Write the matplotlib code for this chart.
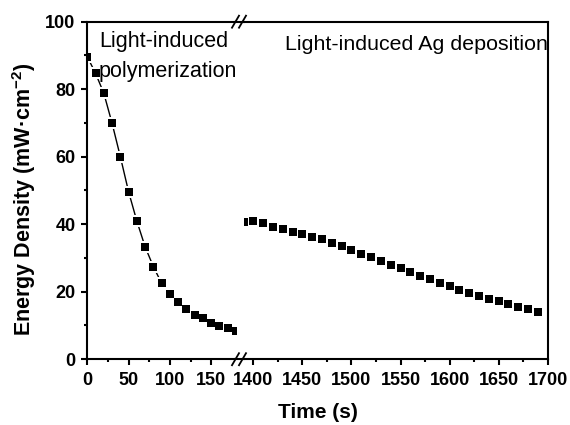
import numpy as np
import matplotlib
matplotlib.use("Agg")
import matplotlib.pyplot as plt
from matplotlib.lines import Line2D
from matplotlib.patches import Polygon

plt.rcParams['font.family'] = ['Liberation Sans', 'DejaVu Sans']
plt.rcParams['mathtext.fontset'] = 'custom'
plt.rcParams['mathtext.rm'] = 'Liberation Sans'
plt.rcParams['mathtext.default'] = 'regular'

# light-induced polymerization
t_poly = [0, 10, 20, 30, 40, 50, 60, 70, 80, 90, 100, 110, 120, 130, 140, 150, 160, 170, 180]
e_poly = [89.6, 84.7, 78.8, 69.9, 60.0, 49.6, 40.9, 33.3, 27.4, 22.5, 19.2, 17.0, 14.9,
          13.1, 12.1, 10.8, 9.9, 9.2, 8.4]

# light-induced Ag deposition
t_ag = [1390, 1400, 1410, 1420, 1430, 1440, 1450, 1460, 1470, 1480, 1490, 1500, 1510,
        1520, 1530, 1540, 1550, 1560, 1570, 1580, 1590, 1600, 1610, 1620, 1630, 1640,
        1650, 1660, 1670, 1680, 1690]
e_ag = [40.7, 40.9, 40.3, 39.1, 38.6, 37.8, 37.0, 36.3, 35.5, 34.3, 33.5, 32.4, 31.2,
        30.2, 29.1, 28.0, 27.0, 25.8, 24.7, 23.7, 22.7, 21.7, 20.5, 19.7, 18.7, 17.9,
        17.2, 16.3, 15.6, 14.9, 14.1]

W, H = 570, 425
fig = plt.figure(figsize=(W / 100, H / 100), dpi=100)

def fx(px):
    return px / W

def fy(py):
    return 1 - py / H

top, bot = 21.7, 359.2
ax1 = fig.add_axes([fx(87.3), fy(bot), fx(236 - 87.3), (bot - top) / H])
ax2 = fig.add_axes([fx(243.5), fy(bot), fx(547.7 - 243.5), (bot - top) / H], sharey=ax1)

for ax, t, e in [(ax1, t_poly, e_poly), (ax2, t_ag, e_ag)]:
    ax.plot(t, e, color='black', lw=1, zorder=2)
    ax.plot(t, e, 's', color='white', ms=8, mew=0, zorder=2.2)
    ax.plot(t, e, 's', color='black', ms=5.2, mew=0, zorder=3)
    for s in ax.spines.values():
        s.set_linewidth(1.5)
    ax.tick_params(which='major', direction='out', length=4.5, width=1.5, pad=4,
                   labelsize=13)
    ax.tick_params(which='minor', direction='out', length=2.5, width=1.5)

ax1.set_xlim(0, 180)
ax1.set_ylim(0, 100)
ax1.set_xticks([0, 50, 100, 150])
ax1.set_xticks([25, 75, 125], minor=True)
ax1.set_yticks([0, 20, 40, 60, 80, 100])
ax1.set_yticks([10, 30, 50, 70, 90], minor=True)
ax1.spines['right'].set_visible(False)
ax1.tick_params(which='both', top=False, right=False)
ax1.tick_params(axis='x', pad=5)
for lab in ax1.get_xticklabels() + ax1.get_yticklabels():
    lab.set_fontweight('bold')

ax2.set_xlim(1390, 1700)
ax2.set_xticks([1400, 1450, 1500, 1550, 1600, 1650, 1700])
ax2.set_xticks([1425, 1475, 1525, 1575, 1625, 1675], minor=True)
ax2.spines['left'].set_visible(False)
ax2.tick_params(which='both', top=False, right=False, left=False, labelleft=False)
ax2.tick_params(axis='x', pad=5)
for lab in ax2.get_xticklabels():
    lab.set_fontweight('bold')

# axis break marks
for yb in (top, bot):
    fig.add_artist(Line2D([fx(235), fx(244)], [fy(yb), fy(yb)], color='black', lw=1.5))
    fig.add_artist(Polygon([(fx(233.5), fy(yb + 6)), (fx(237.5), fy(yb - 6)),
                            (fx(244.5), fy(yb - 6)), (fx(240.5), fy(yb + 6))],
                           closed=True, facecolor='white', edgecolor='none'))
    for cx in (235.5, 242.5):
        fig.add_artist(Line2D([fx(cx - 3.5), fx(cx + 3.5)], [fy(yb + 6), fy(yb - 6)],
                              color='black', lw=1.3))

fig.text(fx(318), fy(412), 'Time (s)', ha='center', va='center', fontsize=15,
         fontweight='bold')
fig.text(fx(24), fy(199), r'Energy Density (mW·cm$^{-2}$)', ha='center', va='center',
         rotation=90, fontsize=15.5, fontweight='bold')

fig.text(fx(99), fy(46.7), 'Light-induced', fontsize=15.5, va='baseline')
fig.text(fx(99), fy(76.7), 'polymerization', fontsize=15.5, va='baseline')
fig.text(fx(285), fy(50), 'Light-induced Ag deposition', fontsize=15.4, va='baseline')

fig.savefig('out.png', dpi=100)
